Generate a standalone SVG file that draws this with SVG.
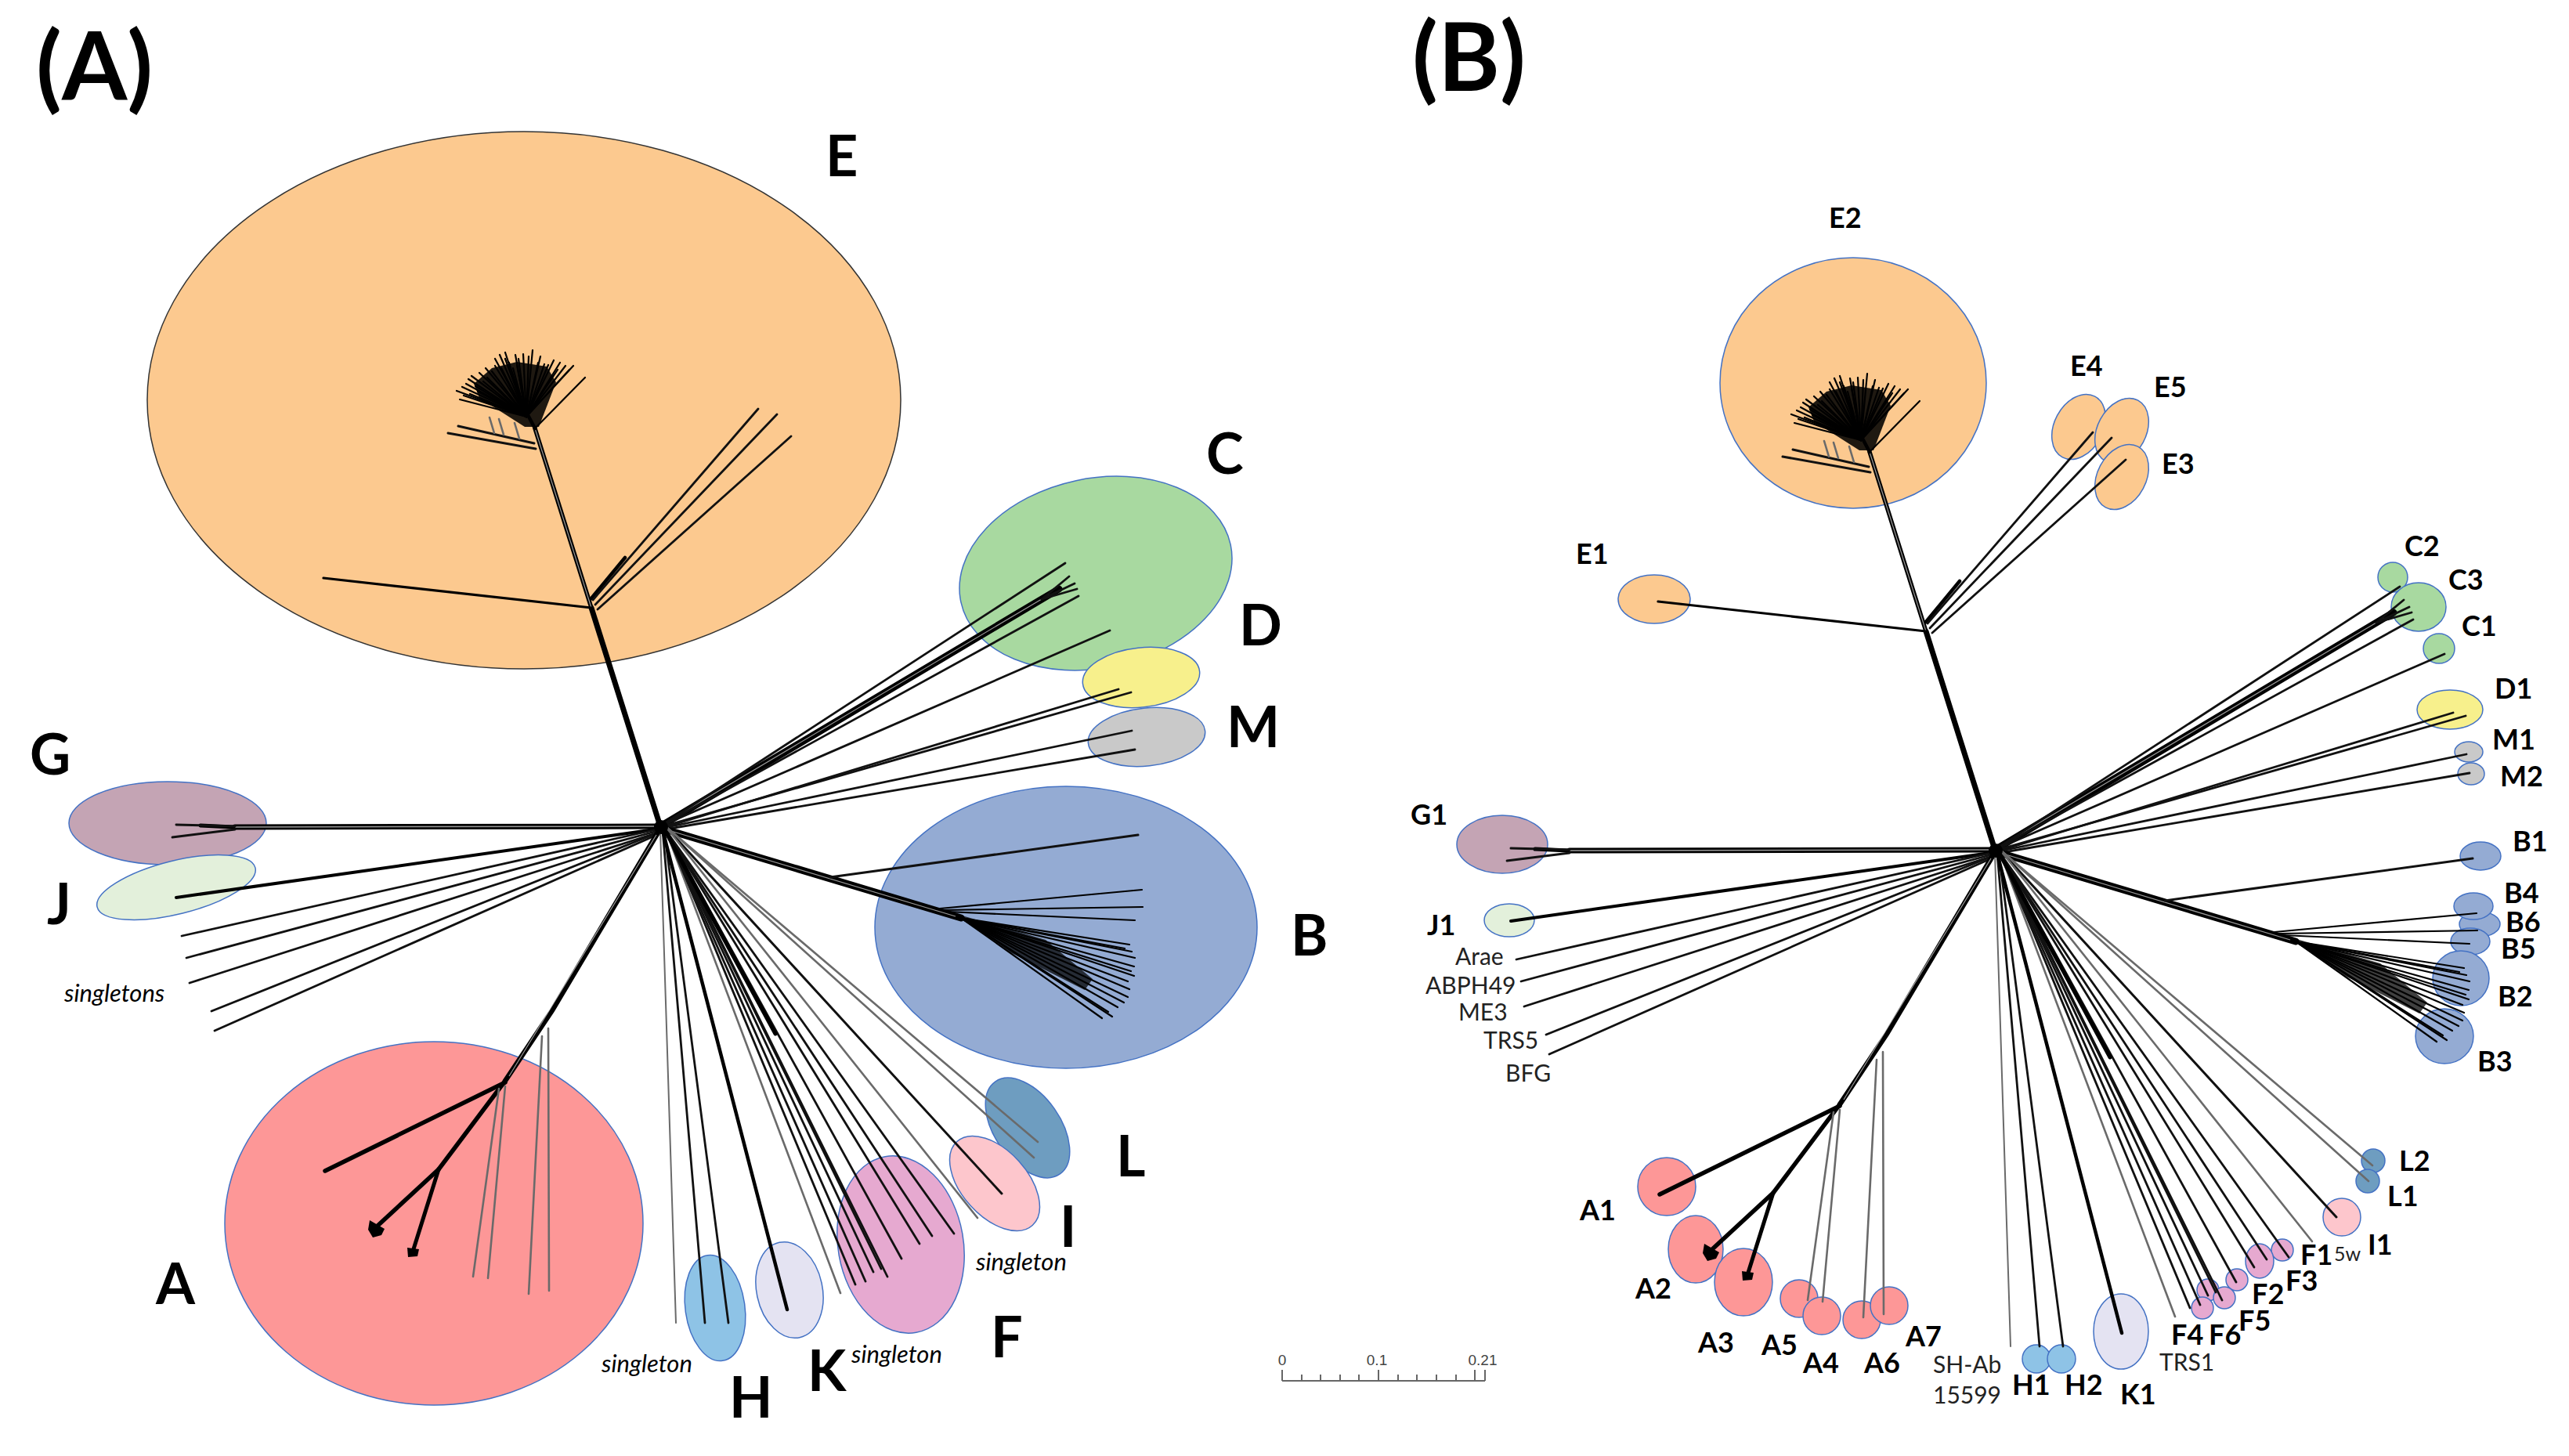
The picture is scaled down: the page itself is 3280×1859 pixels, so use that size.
<svg xmlns="http://www.w3.org/2000/svg" xmlns:xlink="http://www.w3.org/1999/xlink" width="3280" height="1859" viewBox="0 0 3280 1859">
<style>
.bg{fill:#ffffff}
.el{stroke:#4472c4;stroke-width:1.5}
.eE{fill:#fcc98f}.eC{fill:#a8d9a0}.eD{fill:#f7f08c}.eM{fill:#c9c9c9}.eG{fill:#c4a4b4}.eJ{fill:#e3f0db}
.eB{fill:#94abd3}.eA{fill:#fd9797}.eL{fill:#6e9dc0}.eI{fill:#fdc6cc}.eF{fill:#e6a9d0}.eK{fill:#e4e3f2}.eH{fill:#8ec3e6}
.t{font-family:Lato,'Liberation Sans',sans-serif;fill:#000}
.P{font-size:120px;font-weight:700}
.L{font-size:72px;font-weight:700}
.S{font-size:36px;font-weight:700}
.N{font-size:30px;font-weight:400;fill:#222}
.w{font-size:25px;font-weight:400;fill:#222}
.I{font-size:31px;font-style:italic;font-weight:400}
.sbt{font-family:'Liberation Sans',Arial,sans-serif;font-size:19px;fill:#444;text-anchor:middle}
.sb{stroke:#666;stroke-width:2;fill:none}
.k1{stroke:#111;stroke-width:2.8;fill:none;stroke-linecap:round}
.k2{stroke:#000;stroke-width:4.5;fill:none;stroke-linecap:round}
.k3{stroke:#000;stroke-width:7;fill:none;stroke-linecap:round}
.kw{stroke:#fff;stroke-width:1.2;fill:none;opacity:0.6}
.g1{stroke:#6a6a6a;stroke-width:2.6;fill:none;stroke-linecap:round}
.f1{stroke:#000;stroke-width:2.2;fill:none;stroke-linecap:round}
</style>
<defs>
<g id="tree">
  <!-- E clade -->
  <line class="k3" x1="843" y1="1055" x2="755" y2="776"/>
  <line class="k2" x1="755" y1="776" x2="683" y2="547" style="stroke-width:5.5"/>
  <line class="kw" x1="755" y1="776" x2="683" y2="547"/>
  <line class="k2" x1="755" y1="776" x2="413" y2="738" style="stroke-width:3.2"/>
  <line class="k2" x1="755" y1="764" x2="798" y2="712"/>
  <line class="k1" x1="757" y1="766" x2="968" y2="522"/>
  <line class="k1" x1="760" y1="772" x2="992" y2="529"/>
  <line class="k1" x1="763" y1="778" x2="1010" y2="557"/>
  <line class="k2" x1="683" y1="547" x2="674" y2="530"/>
  <line class="k1" x1="682" y1="566" x2="585" y2="544" style="stroke-width:3"/>
  <line class="k1" x1="684" y1="573" x2="572" y2="553" style="stroke-width:3"/>
  <line class="g1" x1="625" y1="533" x2="631" y2="553"/>
  <line class="g1" x1="637" y1="535" x2="643" y2="555"/>
  <line class="g1" x1="657" y1="540" x2="663" y2="560"/>
  <g class="f1">
    <line x1="672" y1="532" x2="602" y2="480"/><line x1="672" y1="532" x2="583" y2="499"/>
    <line x1="672" y1="532" x2="587" y2="510"/><line x1="672" y1="532" x2="638" y2="453"/>
    <line x1="672" y1="532" x2="658" y2="453"/><line x1="672" y1="532" x2="668" y2="452"/>
    <line x1="672" y1="532" x2="680" y2="447"/><line x1="672" y1="532" x2="707" y2="460"/>
    <line x1="672" y1="532" x2="722" y2="467"/><line x1="672" y1="532" x2="732" y2="467"/>
    <line x1="683" y1="547" x2="747" y2="482"/><line x1="672" y1="532" x2="632" y2="467"/>
    <line x1="672" y1="532" x2="622" y2="482"/><line x1="672" y1="532" x2="607" y2="493"/>
    <line x1="672" y1="532" x2="695" y2="465"/><line x1="672" y1="532" x2="650" y2="463"/>
    <line x1="672" y1="532" x2="687" y2="463"/><line x1="672" y1="532" x2="612" y2="476"/>
    <line x1="672" y1="532" x2="595" y2="490"/><line x1="672" y1="532" x2="628" y2="474"/>
    <line x1="672" y1="532" x2="645" y2="458"/><line x1="672" y1="532" x2="662" y2="458"/>
    <line x1="672" y1="532" x2="675" y2="455"/><line x1="672" y1="532" x2="700" y2="466"/>
    <line x1="672" y1="532" x2="715" y2="463"/><line x1="672" y1="532" x2="727" y2="472"/>
    <line x1="672" y1="532" x2="617" y2="487"/><line x1="672" y1="532" x2="600" y2="503"/>
    <line x1="672" y1="532" x2="640" y2="470"/><line x1="672" y1="532" x2="655" y2="470"/>
    <line x1="672" y1="532" x2="690" y2="455"/><line x1="672" y1="532" x2="645" y2="450"/>
    <line x1="672" y1="532" x2="632" y2="458"/><line x1="672" y1="532" x2="592" y2="505"/>
    <line x1="672" y1="532" x2="610" y2="500"/><line x1="672" y1="532" x2="660" y2="466"/>
    <line x1="672" y1="532" x2="590" y2="494"/><line x1="672" y1="532" x2="598" y2="484"/>
    <line x1="672" y1="532" x2="620" y2="470"/><line x1="672" y1="532" x2="712" y2="472"/>
  </g>
  <path d="M670 545 L612 508 L605 490 L628 470 L660 462 L698 468 L710 488 L688 545 Z" fill="#000" opacity="0.88"/>
  <!-- C / D / M -->
  <line class="k3" x1="843" y1="1055" x2="1352" y2="752" style="stroke-width:9"/>
  <line class="kw" x1="850" y1="1050" x2="1340" y2="759"/>
  <line class="k1" x1="843" y1="1055" x2="1360" y2="719"/>
  <line class="k1" x1="843" y1="1055" x2="1377" y2="761"/>
  <line class="k1" x1="1330" y1="765" x2="1365" y2="736"/>
  <line class="k1" x1="1330" y1="765" x2="1372" y2="745"/>
  <line class="k1" x1="1330" y1="765" x2="1375" y2="752"/>
  <line class="k1" x1="843" y1="1055" x2="1417" y2="805"/>
  <line class="k1" x1="843" y1="1056" x2="1444" y2="884"/>
  <line class="k1" x1="843" y1="1058" x2="1428" y2="880"/>
  <line class="k1" x1="843" y1="1058" x2="1445" y2="933"/>
  <line class="k1" x1="843" y1="1060" x2="1449" y2="957"/>
  <!-- G / J / singletons -->
  <line class="k3" x1="843" y1="1055" x2="300" y2="1056"/>
  <line class="kw" x1="835" y1="1055" x2="300" y2="1056" style="stroke-width:1.5"/>
  <line class="k2" x1="298" y1="1056" x2="256" y2="1054" style="stroke-width:5"/>
  <line class="k1" x1="300" y1="1055" x2="225" y2="1053" style="stroke-width:3"/>
  <line class="k1" x1="300" y1="1059" x2="220" y2="1069"/>
  <line class="k2" x1="843" y1="1058" x2="225" y2="1146" style="stroke-width:4"/>
  <line class="k1" x1="843" y1="1058" x2="232" y2="1195"/>
  <line class="k1" x1="843" y1="1060" x2="238" y2="1223"/>
  <line class="k1" x1="843" y1="1062" x2="242" y2="1255"/>
  <line class="k1" x1="843" y1="1062" x2="270" y2="1291"/>
  <line class="k1" x1="843" y1="1064" x2="274" y2="1316"/>
  <!-- B -->
  <line class="k3" x1="843" y1="1057" x2="1227" y2="1172" style="stroke-width:9"/>
  <line class="kw" x1="850" y1="1059" x2="1220" y2="1170"/>
  <line class="k1" x1="1060" y1="1120" x2="1453" y2="1066" style="stroke-width:3"/>
  <g class="f1">
    <line x1="1200" y1="1160" x2="1458" y2="1136"/><line x1="1205" y1="1162" x2="1459" y2="1158"/>
    <line x1="1210" y1="1164" x2="1449" y2="1175"/><line x1="1227" y1="1172" x2="1442" y2="1206"/>
    <line x1="1227" y1="1172" x2="1436" y2="1211"/><line x1="1227" y1="1172" x2="1449" y2="1223"/>
    <line x1="1227" y1="1172" x2="1448" y2="1234"/><line x1="1227" y1="1172" x2="1448" y2="1246"/>
    <line x1="1227" y1="1172" x2="1440" y2="1253"/><line x1="1227" y1="1172" x2="1442" y2="1263"/>
    <line x1="1227" y1="1172" x2="1440" y2="1273"/><line x1="1227" y1="1172" x2="1427" y2="1286"/>
    <line x1="1227" y1="1172" x2="1420" y2="1298"/><line x1="1227" y1="1172" x2="1407" y2="1300"/>
    <line x1="1227" y1="1172" x2="1445" y2="1215"/><line x1="1227" y1="1172" x2="1444" y2="1240"/>
    <line x1="1227" y1="1172" x2="1435" y2="1280"/><line x1="1227" y1="1172" x2="1415" y2="1292"/>
  </g>
  <path d="M1225 1168 L1335 1200 L1395 1250 L1385 1264 L1290 1216 Z" fill="#000" opacity="0.75"/>
  <!-- A -->
  <polyline class="k3" points="843,1058 705,1290 645,1380" style="stroke-width:6.5"/>
  <line class="kw" x1="838" y1="1066" x2="650" y2="1374"/>
  <line class="k2" x1="645" y1="1382" x2="415" y2="1495" style="stroke-width:5.5"/>
  <line class="k2" x1="645" y1="1380" x2="560" y2="1493" style="stroke-width:5.5"/>
  <line class="k2" x1="560" y1="1493" x2="481" y2="1566" style="stroke-width:5.5"/>
  <line class="k2" x1="560" y1="1493" x2="527" y2="1598" style="stroke-width:5"/>
  <path d="M472 1558 L491 1569 L487 1577 L476 1580 L470 1570 Z" fill="#000"/>
  <path d="M520 1593 L535 1595 L533 1604 L521 1605 Z" fill="#000"/>
  <line class="g1" x1="637" y1="1390" x2="604" y2="1630"/>
  <line class="g1" x1="645" y1="1387" x2="623" y2="1632"/>
  <line class="g1" x1="692" y1="1323" x2="675" y2="1652"/>
  <line class="g1" x1="700" y1="1313" x2="701" y2="1648"/>
  <!-- H / K / singleton -->
  <line class="g1" x1="843" y1="1060" x2="863" y2="1689" style="stroke-width:2"/>
  <line class="k1" x1="846" y1="1060" x2="900" y2="1689"/>
  <line class="k1" x1="848" y1="1060" x2="930" y2="1689"/>
  <line class="k2" x1="846" y1="1060" x2="1005" y2="1672"/>
  <!-- F -->
  <line class="g1" x1="850" y1="1060" x2="1073" y2="1651"/>
  <line class="k1" x1="850" y1="1060" x2="1105" y2="1636"/>
  <line class="k1" x1="850" y1="1060" x2="1115" y2="1624"/>
  <line class="k1" x1="850" y1="1060" x2="1133" y2="1630"/>
  <line class="k1" x1="850" y1="1060" x2="1151" y2="1607"/>
  <line class="k1" x1="850" y1="1060" x2="1174" y2="1588"/>
  <line class="k1" x1="850" y1="1060" x2="1190" y2="1578"/>
  <line class="k1" x1="850" y1="1060" x2="1218" y2="1575"/>
  <line class="k1" x1="850" y1="1060" x2="1092" y2="1640"/>
  <line class="k1" x1="850" y1="1060" x2="1125" y2="1620"/>
  <line class="k2" x1="850" y1="1062" x2="990" y2="1320" style="stroke-width:5"/>
  <!-- I / L -->
  <line class="k1" x1="852" y1="1058" x2="1279" y2="1524" style="stroke-width:3"/>
  <line class="g1" x1="852" y1="1058" x2="1248" y2="1555"/>
  <line class="g1" x1="852" y1="1057" x2="1325" y2="1458"/>
  <line class="g1" x1="852" y1="1057" x2="1320" y2="1478"/>
  <circle cx="844" cy="1056" r="9" fill="#000"/>
</g>
</defs>
<rect class="bg" x="0" y="0" width="3280" height="1859"/>

<!-- Panel labels -->
<text id="label-A" class="t P" x="46" y="128">(A)</text>
<text id="label-B" class="t P" x="1803" y="116">(B)</text>

<!-- ===== Panel A nodes ===== -->
<g id="node-E"><ellipse class="eE" cx="669" cy="511" rx="481" ry="343" stroke="#333" stroke-width="1.5"/><text class="t L" x="1054" y="225">E</text></g>
<g id="node-C"><ellipse class="el eC" cx="1399" cy="732" rx="176" ry="121" transform="rotate(-12 1399 732)"/><text class="t L" x="1540" y="605">C</text></g>
<g id="node-D"><ellipse class="el eD" cx="1457" cy="865" rx="75" ry="38" transform="rotate(-6 1457 865)"/><text class="t L" x="1582" y="824">D</text></g>
<g id="node-M"><ellipse class="el eM" cx="1464" cy="941" rx="75" ry="37" transform="rotate(-6 1464 941)"/><text class="t L" x="1566" y="954">M</text></g>
<g id="node-G"><ellipse class="el eG" cx="214" cy="1051" rx="126" ry="53"/><text class="t L" x="38" y="989">G</text></g>
<g id="node-J"><ellipse class="el eJ" cx="225" cy="1133" rx="104" ry="34" transform="rotate(-14 225 1133)"/><text class="t L" x="60" y="1180">J</text></g>
<g id="node-singletons"><text class="t I" x="82" y="1279">singletons</text></g>
<g id="node-B"><ellipse class="el eB" cx="1361" cy="1184" rx="244" ry="180"/><text class="t L" x="1648" y="1220">B</text></g>
<g id="node-A"><ellipse class="el eA" cx="554" cy="1562" rx="267" ry="232"/><text class="t L" x="199" y="1665">A</text></g>
<g id="node-L"><ellipse class="el eL" cx="1312" cy="1440" rx="72" ry="42" transform="rotate(55 1312 1440)"/><text class="t L" x="1425" y="1502">L</text></g>
<g id="node-I"><ellipse class="el eI" cx="1270" cy="1511" rx="72" ry="42" transform="rotate(48 1270 1511)"/><text class="t L" x="1353" y="1592">I</text><text class="t I" x="1246" y="1622">singleton</text></g>
<g id="node-F"><ellipse class="el eF" cx="1150" cy="1589" rx="80" ry="114" transform="rotate(-10 1150 1589)"/><text class="t L" x="1265" y="1733">F</text><text class="t I" x="1087" y="1740">singleton</text></g>
<g id="node-K"><ellipse class="el eK" cx="1008" cy="1647" rx="42" ry="62" transform="rotate(-12 1008 1647)"/><text class="t L" x="1031" y="1776">K</text></g>
<g id="node-H"><ellipse class="el eH" cx="913" cy="1670" rx="38" ry="68" transform="rotate(-8 913 1670)"/><text class="t L" x="931" y="1810">H</text><text class="t I" x="768" y="1752">singleton</text></g>

<!-- ===== Panel B nodes ===== -->
<g id="node-E2"><ellipse class="el eE" cx="2366" cy="489" rx="170" ry="160"/><text class="t S" x="2335" y="291">E2</text></g>
<g id="node-E4"><ellipse class="el eE" cx="2654" cy="545" rx="44" ry="31" transform="rotate(-62 2654 545)"/><text class="t S" x="2643" y="480">E4</text></g>
<g id="node-E5"><ellipse class="el eE" cx="2709" cy="550" rx="44" ry="31" transform="rotate(-62 2709 550)"/><text class="t S" x="2750" y="507">E5</text></g>
<g id="node-E3"><ellipse class="el eE" cx="2709" cy="609" rx="44" ry="31" transform="rotate(-62 2709 609)"/><text class="t S" x="2760" y="605">E3</text></g>
<g id="node-E1"><ellipse class="el eE" cx="2112" cy="765" rx="46" ry="31"/><text class="t S" x="2012" y="720">E1</text></g>
<g id="node-C2"><ellipse class="el eC" cx="3055" cy="737" rx="19" ry="19"/><text class="t S" x="3070" y="710">C2</text></g>
<g id="node-C3"><ellipse class="el eC" cx="3088" cy="775" rx="35" ry="31"/><text class="t S" x="3126" y="753">C3</text></g>
<g id="node-C1"><ellipse class="el eC" cx="3114" cy="828" rx="20" ry="19"/><text class="t S" x="3143" y="812">C1</text></g>
<g id="node-D1"><ellipse class="el eD" cx="3128" cy="906" rx="42" ry="25"/><text class="t S" x="3185" y="892">D1</text></g>
<g id="node-M1"><ellipse class="el eM" cx="3152" cy="960" rx="18" ry="13"/><text class="t S" x="3182" y="957">M1</text></g>
<g id="node-M2"><ellipse class="el eM" cx="3155" cy="988" rx="17" ry="14"/><text class="t S" x="3192" y="1004">M2</text></g>
<g id="node-G1"><ellipse class="el eG" cx="1918" cy="1078" rx="58" ry="37"/><text class="t S" x="1801" y="1053">G1</text></g>
<g id="node-J1"><ellipse class="el eJ" cx="1927" cy="1175" rx="32" ry="21"/><text class="t S" x="1822" y="1194">J1</text></g>
<g id="node-singletonsB">
  <text class="t N" x="1858" y="1232">Arae</text>
  <text class="t N" x="1820" y="1269">ABPH49</text>
  <text class="t N" x="1862" y="1303">ME3</text>
  <text class="t N" x="1894" y="1339">TRS5</text>
  <text class="t N" x="1922" y="1381">BFG</text>
</g>
<g id="node-B1"><ellipse class="el eB" cx="3167" cy="1093" rx="26" ry="18"/><text class="t S" x="3208" y="1087">B1</text></g>
<g id="node-B6"><ellipse class="el eB" cx="3166" cy="1180" rx="26" ry="16"/><text class="t S" x="3199" y="1190">B6</text></g>
<g id="node-B4"><ellipse class="el eB" cx="3158" cy="1157" rx="25" ry="17"/><text class="t S" x="3197" y="1153">B4</text></g>
<g id="node-B5"><ellipse class="el eB" cx="3154" cy="1202" rx="25" ry="17"/><text class="t S" x="3193" y="1224">B5</text></g>
<g id="node-B2"><ellipse class="el eB" cx="3142" cy="1249" rx="36" ry="35"/><text class="t S" x="3189" y="1285">B2</text></g>
<g id="node-B3"><ellipse class="el eB" cx="3121" cy="1323" rx="37" ry="35"/><text class="t S" x="3163" y="1368">B3</text></g>
<g id="node-L2"><circle class="el eL" cx="3030" cy="1482" r="15"/><text class="t S" x="3063" y="1495">L2</text></g>
<g id="node-L1"><circle class="el eL" cx="3023" cy="1508" r="15"/><text class="t S" x="3048" y="1540">L1</text></g>
<g id="node-I1"><circle class="el eI" cx="2990" cy="1554" r="24"/><text class="t S" x="3023" y="1602">I1</text><text class="t w" x="2980" y="1610">5w</text></g>
<g id="node-F1"><circle class="el eF" cx="2914" cy="1596" r="14"/><text class="t S" x="2937" y="1615">F1</text></g>
<g id="node-F3"><ellipse class="el eF" cx="2885" cy="1610" rx="18" ry="22"/><text class="t S" x="2918" y="1648">F3</text></g>
<g id="node-F2"><circle class="el eF" cx="2856" cy="1634" r="14"/><text class="t S" x="2875" y="1665">F2</text></g>
<g id="node-F5"><circle class="el eF" cx="2819" cy="1647" r="14"/><text class="t S" x="2858" y="1699">F5</text></g>
<g id="node-F6"><circle class="el eF" cx="2840" cy="1657" r="14"/><text class="t S" x="2820" y="1717">F6</text></g>
<g id="node-F4"><circle class="el eF" cx="2812" cy="1670" r="14"/><text class="t S" x="2772" y="1717">F4</text></g>
<g id="node-TRS1"><text class="t N" x="2757" y="1750">TRS1</text></g>
<g id="node-K1"><ellipse class="el eK" cx="2708" cy="1700" rx="35" ry="48"/><text class="t S" x="2707" y="1793">K1</text></g>
<g id="node-H1"><circle class="el eH" cx="2600" cy="1735" r="18"/><text class="t S" x="2569" y="1781">H1</text></g>
<g id="node-H2"><circle class="el eH" cx="2632" cy="1735" r="18"/><text class="t S" x="2636" y="1781">H2</text></g>
<g id="node-SHAb"><text class="t N" x="2468" y="1753">SH-Ab</text><text class="t N" x="2468" y="1792">15599</text></g>
<g id="node-A1"><ellipse class="el eA" cx="2128" cy="1515" rx="37" ry="37"/><text class="t S" x="2017" y="1558">A1</text></g>
<g id="node-A2"><ellipse class="el eA" cx="2165" cy="1595" rx="35" ry="43"/><text class="t S" x="2088" y="1658">A2</text></g>
<g id="node-A3"><ellipse class="el eA" cx="2226" cy="1637" rx="37" ry="43"/><text class="t S" x="2168" y="1727">A3</text></g>
<g id="node-A5"><circle class="el eA" cx="2297" cy="1658" r="24"/><text class="t S" x="2249" y="1730">A5</text></g>
<g id="node-A4"><circle class="el eA" cx="2326" cy="1680" r="24"/><text class="t S" x="2302" y="1753">A4</text></g>
<g id="node-A6"><circle class="el eA" cx="2377" cy="1685" r="24"/><text class="t S" x="2380" y="1753">A6</text></g>
<g id="node-A7"><circle class="el eA" cx="2412" cy="1667" r="24"/><text class="t S" x="2433" y="1719">A7</text></g>

<!-- ===== Connectors (tree) ===== -->
<g id="connectors">
  <use xlink:href="#tree" href="#tree"/>
  <use xlink:href="#tree" href="#tree" transform="translate(1704,30)"/>
</g>

<!-- Scale bar -->
<g id="scale-bar">
  <path class="sb" d="M1637 1763 H1896 M1637 1749 V1763 M1760 1749 V1763 M1883 1749 V1763 M1896 1749 V1763 M1662 1755 V1763 M1686 1755 V1763 M1711 1755 V1763 M1735 1755 V1763 M1785 1755 V1763 M1809 1755 V1763 M1834 1755 V1763 M1859 1755 V1763"/>
  <text class="sbt" x="1637" y="1743">0</text>
  <text class="sbt" x="1758" y="1743">0.1</text>
  <text class="sbt" x="1893" y="1743">0.21</text>
</g>
</svg>
